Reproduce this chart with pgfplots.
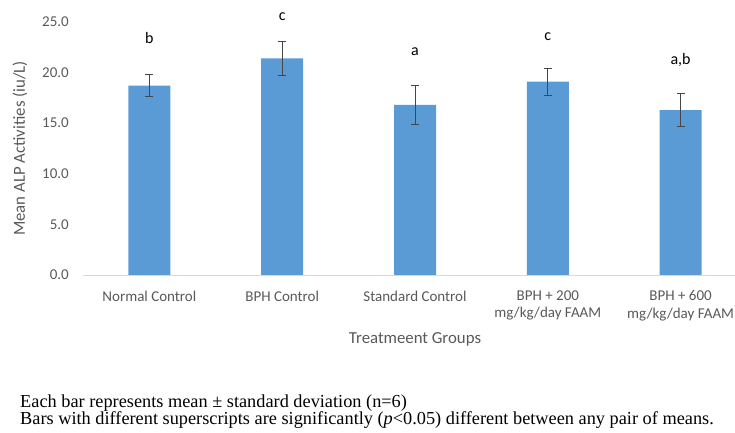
\documentclass[border=0pt]{standalone}
\usepackage{pgfplots}
\pgfplotsset{compat=1.18}
\usepackage{fontspec}
\setmainfont{Carlito}
\newfontfamily\timesfont{Liberation Serif}
\definecolor{barblue}{RGB}{91,155,213}
\definecolor{txtgray}{RGB}{89,89,89}
\definecolor{axgray}{RGB}{217,217,217}
\definecolor{errgray}{RGB}{70,70,70}
\begin{document}
\begin{tikzpicture}[x=1bp,y=1bp]
\useasboundingbox (0,0) rectangle (735,433);
\begin{axis}[
  at={(83bp,158bp)}, anchor=south west,
  scale only axis, width=664bp, height=253bp,
  xmin=-0.5, xmax=4.5, ymin=0, ymax=25,
  clip=false,
  separate axis lines,
  axis x line*=bottom, axis y line*=left,
  x axis line style={-, draw=axgray, line width=0.8bp},
  y axis line style={draw=none},
  major tick length=0pt,
  ytick={0,5,10,15,20,25},
  /pgf/number format/assume math mode=true,
  yticklabel={\pgfmathprintnumber[fixed,fixed zerofill,precision=1]{\tick}},
  y tick label style={font=\fontsize{15bp}{17bp}\selectfont, color=txtgray, inner sep=0pt, xshift=-14bp},
  xtick={0,1,2,3,4},
  xticklabels={Normal Control, BPH Control, Standard Control, {BPH + 200\\mg/kg/day FAAM}, {BPH + 600\\mg/kg/day FAAM}},
  x tick label style={font=\fontsize{15bp}{17.5bp}\selectfont, color=txtgray, align=center, anchor=north, inner sep=0pt, yshift=-15.5bp},
  xlabel={Treatmeent Groups},
  xlabel style={font=\fontsize{16.8bp}{19bp}\selectfont, color=txtgray, at={(axis description cs:0.5,0)}, anchor=center, yshift=-64bp},
  ylabel={Mean ALP Activities (iu/L)},
  ylabel style={font=\fontsize{16.8bp}{19bp}\selectfont, color=txtgray, at={(axis description cs:0,0.5)}, anchor=center, yshift=63bp},
]
\addplot[ybar, bar width=42bp, fill=barblue, draw=none,
  error bars/.cd, y dir=both, y explicit,
  error bar style={draw=errgray, line width=0.9bp},
  error mark options={rotate=90, draw=errgray, mark size=4bp, line width=0.9bp}]
  coordinates {
    (0,18.7) +- (0,1.1)
    (1,21.4) +- (0,1.7)
    (2,16.8) +- (0,1.9)
    (3,19.1) +- (0,1.35)
    (4,16.3) +- (0,1.6)
  };
\node[font=\fontsize{16bp}{18bp}\selectfont] at (axis cs:0,23.4) {b};
\node[font=\fontsize{16bp}{18bp}\selectfont] at (axis cs:1,25.5) {c};
\node[font=\fontsize{16bp}{18bp}\selectfont] at (axis cs:2,22.1) {a};
\node[font=\fontsize{16bp}{18bp}\selectfont] at (axis cs:3,23.5) {c};
\node[font=\fontsize{16bp}{18bp}\selectfont] at (axis cs:4,21.2) {a,b};
\end{axis}
\node[anchor=base west, inner sep=0pt, font=\timesfont\fontsize{18.3bp}{20bp}\selectfont] at (20,25) {Each bar represents mean ± standard deviation (n=6)};
\node[anchor=base west, inner sep=0pt, font=\timesfont\fontsize{18.3bp}{20bp}\selectfont] at (20,8) {Bars with different superscripts are significantly (\textit{p}<0.05) different between any pair of means.};
\end{tikzpicture}
\end{document}
